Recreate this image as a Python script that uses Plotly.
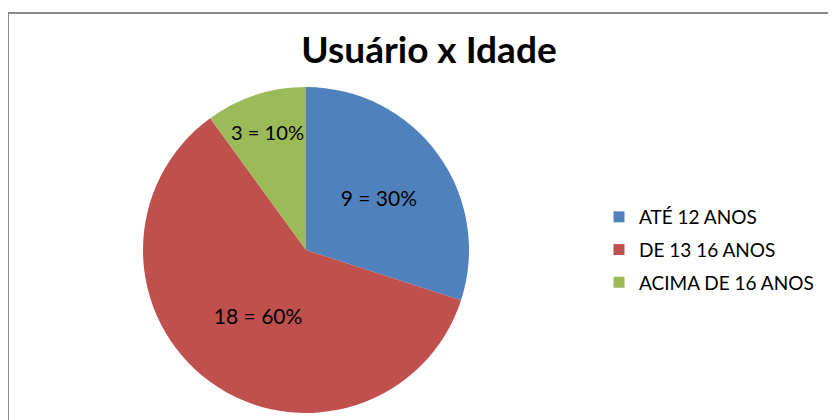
import plotly.graph_objects as go

labels = ['ATÉ 12 ANOS', 'DE 13 16 ANOS', 'ACIMA DE 16 ANOS']
values = [9, 18, 3]
colors = ['#4F81BD', '#C0504D', '#9BBB59']

W, H = 836, 420
off = 8  # page body margin
cx, cy, r = 306 - off, 250 - off, 163

fig = go.Figure(go.Pie(
    labels=labels, values=values,
    marker=dict(colors=colors),
    sort=False, direction='clockwise', rotation=0,
    texttemplate='%{value} = %{percent:.0%}',
    textposition='inside', insidetextorientation='horizontal',
    textfont=dict(family='Lato', size=21, color='black'),
    domain=dict(x=[(cx - r) / W, (cx + r) / W], y=[(H - cy - r) / H, (H - cy + r) / H]),
    hoverinfo='label+value+percent',
    showlegend=False,
))

# legend entries (square swatches), one group each so the gap can be set
for lab, col in zip(labels, colors):
    fig.add_trace(go.Scatter(x=[None], y=[None], mode='markers', name=lab,
                             legendgroup=lab,
                             marker=dict(symbol='square', size=11, color=col)))

fig.update_layout(
    width=W, height=H,
    margin=dict(l=0, r=0, t=0, b=0),
    paper_bgcolor='white', plot_bgcolor='white',
    xaxis=dict(visible=False), yaxis=dict(visible=False),
    title=dict(text='<b>Usuário x Idade</b>', x=(429 - off) / W, xanchor='center',
               y=1 - (50 - off) / H, yanchor='middle',
               font=dict(family='Lato', size=37, color='black')),
    legend=dict(x=(599 - off) / W, xanchor='left', y=1 - (198 - off) / H, yanchor='top',
                font=dict(family='Lato', size=19, color='black'),
                tracegroupgap=5, itemwidth=30),
    shapes=[dict(type='rect', xref='paper', yref='paper',
                 x0=0, x1=1.05, y0=1 - (13 - off) / H, y1=-0.05,
                 line=dict(color='#888888', width=2))],
)

fig.write_html('out.html')
